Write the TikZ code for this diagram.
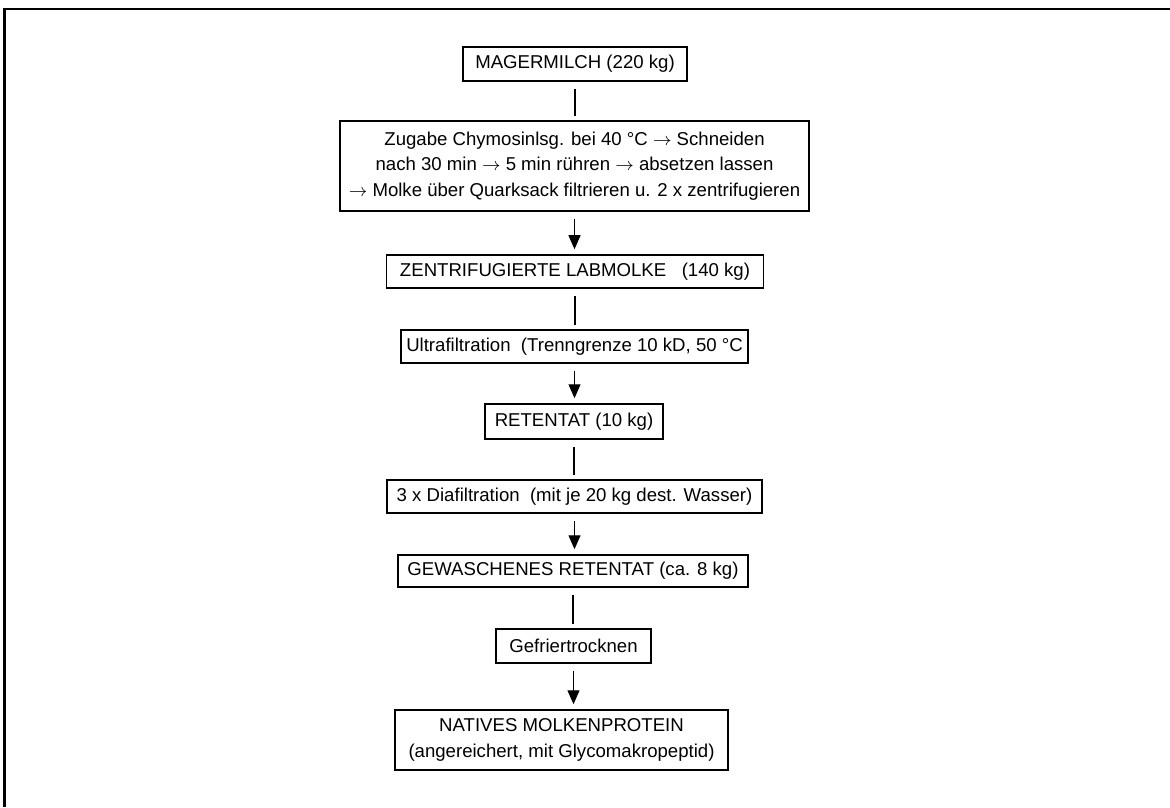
\documentclass[tikz,border=0pt]{standalone}
\usepackage{fontspec}
\setmainfont{Liberation Sans}
\usetikzlibrary{arrows.meta}
\newcommand{\ra}{\ensuremath{\rightarrow}}
\begin{document}
\begin{tikzpicture}[x=0.5pt,y=-0.5pt,
  box/.style={draw,line width=0.75pt,inner sep=0pt,align=center,
    font=\fontsize{9.3}{12.8}\selectfont},
  link/.style={line width=0.6pt,shorten <=3.5pt,shorten >=2pt},
  arr/.style={line width=0.6pt,shorten <=3.5pt,shorten >=2.5pt,
    -{Triangle[length=7pt,width=6pt]}},
  frame/.style={line width=1.1pt}]
\useasboundingbox (0,0) rectangle (1170,807);
\draw[frame] (1170,9) coordinate (fr) -- (4.5,9) coordinate (fc) -- (4.5,807) coordinate (fb);

\node[box,minimum width=112pt,minimum height=17pt] (m) at (575,64) {MAGERMILCH (220 kg)};
\node[box,minimum width=234.5pt,minimum height=45pt] (z) at (574.5,166)
  {Zugabe Chymosinlsg. bei 40 °C \ra{} Schneiden\\
   nach 30 min \ra{} 5 min rühren \ra{} absetzen lassen\\
   \ra{} Molke über Quarksack filtrieren u. 2 x zentrifugieren};
\node[box,minimum width=188.5pt,minimum height=16.5pt] (zl) at (575,271.5) {ZENTRIFUGIERTE LABMOLKE\ \ \ (140 kg)};
\node[box,minimum width=173.5pt,minimum height=16.5pt] (uf) at (574.5,346.5) {Ultrafiltration\ \ (Trenngrenze 10 kD, 50 °C};
\node[box,minimum width=89pt,minimum height=17.5pt] (r) at (574,421.5) {RETENTAT (10 kg)};
\node[box,minimum width=187.5pt,minimum height=16.5pt] (df) at (574.5,496.5) {3 x Diafiltration\ \ (mit je 20 kg dest. Wasser)};
\node[box,minimum width=175pt,minimum height=16pt] (gr) at (573,571) {GEWASCHENES RETENTAT (ca. 8 kg)};
\node[box,minimum width=77.5pt,minimum height=17pt] (gt) at (573.5,646) {Gefriertrocknen};
\node[box,minimum width=166.5pt,minimum height=30pt] (n) at (561.5,740)
  {NATIVES MOLKENPROTEIN\\(angereichert, mit Glycomakropeptid)};

\draw[link] (m.south) -- (m.south |- z.north);
\draw[arr]  (z.south) -- (z.south |- zl.north);
\draw[link] (zl.south) -- (zl.south |- uf.north);
\draw[arr]  (uf.south) -- (uf.south |- r.north);
\draw[link] (r.south) -- (r.south |- df.north);
\draw[arr]  (df.south) -- (df.south |- gr.north);
\draw[link] (gr.south) -- (gr.south |- gt.north);
\draw[arr]  (gt.south) -- (gt.south |- n.north);
\end{tikzpicture}
\end{document}
